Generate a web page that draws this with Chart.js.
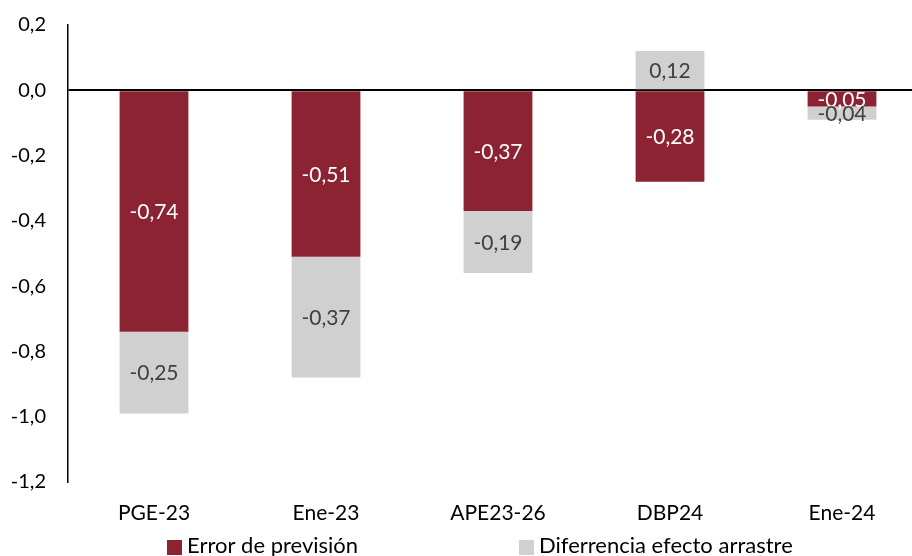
<!DOCTYPE html>
<html><head><meta charset="utf-8">
<script src="https://cdn.jsdelivr.net/npm/chart.js@4/dist/chart.umd.min.js"></script>
<style>html,body{margin:0;padding:0;overflow:hidden;background:#fff;width:912px;height:556px}
#wrap{position:absolute;left:0;top:0;width:928px;height:556px}</style>
</head><body><div id="wrap"><canvas id="c" width="928" height="556"></canvas></div>
<script>
const categories = ['PGE-23','Ene-23','APE23-26','DBP24','Ene-24'];
const errorPrevision = [-0.74,-0.51,-0.37,-0.28,-0.05];
const difArrastre = [-0.25,-0.37,-0.19,0.12,-0.04];
const seriesNames = ['Error de previsión','Diferrencia efecto arrastre'];
const yMin = -1.2, yMax = 0.2, yStep = 0.2;

const FONT = 'Lato, "Open Sans", sans-serif';
const MAROON = '#8B2332', GREY = '#D0D0D0';
const fmt = v => { const r = Math.round(v*100)/100; return (Object.is(r,-0)?0:r).toFixed(Math.abs(r*10-Math.round(r*10))<1e-9?1:2).replace('.',','); };
const fmtTick = v => { const r = Math.round(v*10)/10; return (r===0?0:r).toFixed(1).replace('.',','); };

const labelPlugin = {
  id:'labels',
  afterDatasetsDraw(chart){
    const ctx = chart.ctx;
    ctx.save();
    ctx.font = '21px ' + FONT;
    ctx.textAlign = 'center'; ctx.textBaseline = 'middle';
    chart.data.datasets.forEach((ds,i)=>{
      const meta = chart.getDatasetMeta(i);
      meta.data.forEach((bar,j)=>{
        const v = ds.data[j];
        const y = (bar.y + bar.base)/2;
        ctx.fillStyle = i===0 ? '#FFFFFF' : '#404040';
        ctx.fillText(fmt(v), bar.x, y+1);
      });
    });
    ctx.restore();
  },
  afterDraw(chart){
    const ctx = chart.ctx;
    ctx.save();
    ctx.font = '22px ' + FONT;
    ctx.textBaseline = 'middle'; ctx.textAlign = 'left';
    const items = [{x:167,c:MAROON,t:seriesNames[0]},{x:519,c:GREY,t:seriesNames[1]}];
    items.forEach(it=>{
      ctx.fillStyle = it.c; ctx.fillRect(it.x,540,15,15);
      ctx.fillStyle = '#000'; ctx.fillText(it.t,it.x+20,546);
    });
    ctx.restore();
  }
};

new Chart(document.getElementById('c'),{
  type:'bar',
  data:{labels:categories,datasets:[
    {label:seriesNames[0],data:errorPrevision,backgroundColor:MAROON,barPercentage:0.4,categoryPercentage:1},
    {label:seriesNames[1],data:difArrastre,backgroundColor:GREY,barPercentage:0.4,categoryPercentage:1}
  ]},
  options:{
    responsive:false,animation:false,
    layout:{padding:{top:25,right:0,bottom:0,left:0}},
    plugins:{legend:{display:false},tooltip:{enabled:false}},
    scales:{
      x:{stacked:true,
         grid:{display:false,drawTicks:false},
         border:{display:false},
         ticks:{color:'#000',font:{family:FONT,size:21},padding:19,maxRotation:0},
         afterFit(s){s.height=74;s.paddingLeft=0;s.paddingRight=0;}},
      y:{stacked:true,min:yMin,max:yMax,
         grid:{drawTicks:false,lineWidth:2,color:c=>Math.abs(c.tick.value)<1e-9?'#000':'rgba(0,0,0,0)'},
         border:{display:true,color:'#000',width:1.5},
         ticks:{stepSize:yStep,color:'#000',font:{family:FONT,size:20},padding:22,callback:v=>fmtTick(v)},
         afterFit(s){s.width=68;s.paddingTop=0;s.paddingBottom=0;}}
    }
  },
  plugins:[labelPlugin]
});
</script></body></html>
